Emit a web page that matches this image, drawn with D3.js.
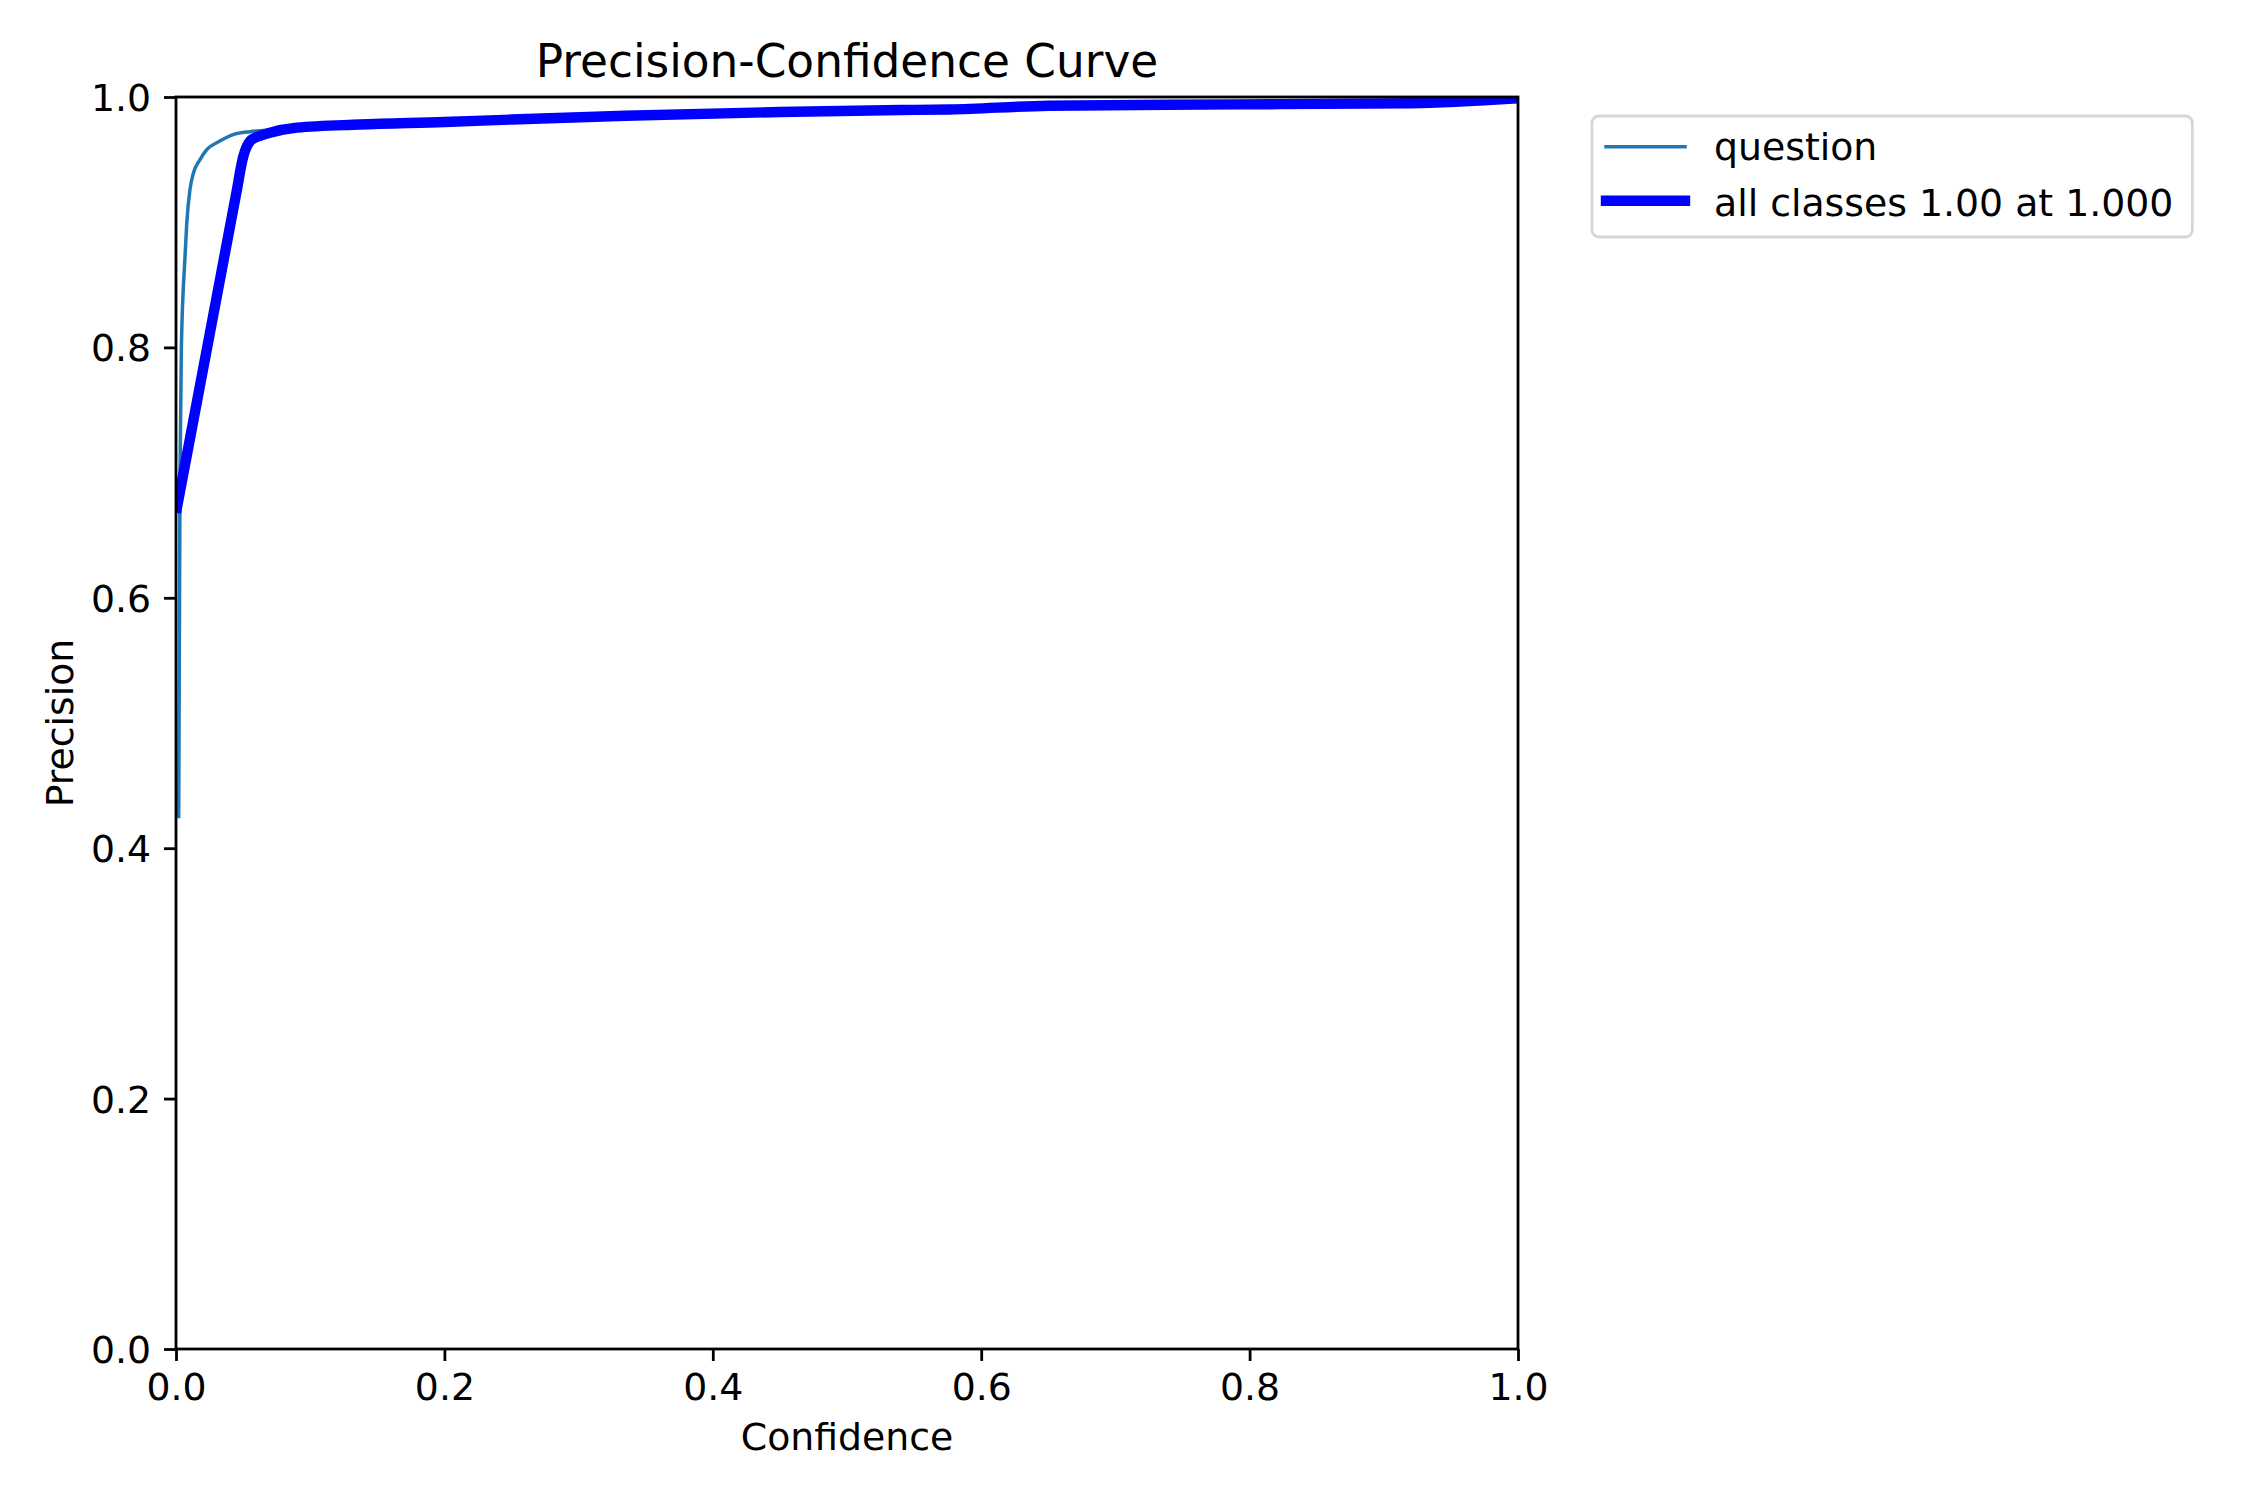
<!DOCTYPE html>
<html>
<head>
<meta charset="utf-8">
<script src="https://cdn.jsdelivr.net/npm/d3@7"></script>
<style>
  body { margin: 0; background: #fff; }
  text { font-family: "DejaVu Sans", sans-serif; fill: #000; }
</style>
</head>
<body>
<svg id="chart" width="2250" height="1500"></svg>
<script>
// per-class curve (thin line)
const confQuestion = [0.002, 0.003, 0.004, 0.0067, 0.008, 0.0104, 0.0129, 0.0179, 0.0229, 0.0313, 0.0425, 0.055, 0.0626, 0.087, 0.137, 0.2, 0.335, 0.54, 0.79, 0.92, 1.0];
const precQuestion = [0.424, 0.70, 0.80, 0.872, 0.899, 0.926, 0.939, 0.950, 0.958, 0.964, 0.970, 0.9723, 0.973, 0.975, 0.978, 0.980, 0.985, 0.9896, 0.9941, 0.995, 0.999];

// smoothed mean over classes (thick line)
const confAll = [0.0, 0.025, 0.045, 0.05, 0.053, 0.055, 0.058, 0.0626, 0.07, 0.09, 0.137, 0.2, 0.25, 0.335, 0.45, 0.54, 0.577, 0.65, 0.79, 0.92, 1.0];
const precAll = [0.668, 0.810, 0.9236, 0.952, 0.961, 0.9645, 0.967, 0.969, 0.9715, 0.9755, 0.978, 0.980, 0.982, 0.985, 0.988, 0.9896, 0.990, 0.993, 0.9941, 0.995, 0.999];

const tickValues = [0, 0.2, 0.4, 0.6, 0.8, 1.0];
const legendLabels = ["question", "all classes 1.00 at 1.000"];

const svg = d3.select("#chart");
const plotL = 176, plotR = 1518, plotT = 97, plotB = 1349;
const fs = 37.8, titleFs = 45.4;

const x = d3.scaleLinear().domain([0, 1]).range([plotL, plotR]);
const y = d3.scaleLinear().domain([0, 1]).range([plotB, plotT]);

svg.append("rect").attr("width", 2250).attr("height", 1500).attr("fill", "#fff");

svg.append("clipPath").attr("id", "plot-clip")
  .append("rect")
  .attr("x", plotL).attr("y", plotT)
  .attr("width", plotR - plotL).attr("height", plotB - plotT);

const line = d3.line()
  .x(d => x(d[0]))
  .y(d => y(d[1]))
  .curve(d3.curveMonotoneX);

const plot = svg.append("g").attr("clip-path", "url(#plot-clip)");

plot.append("path")
  .datum(confQuestion.map((c, i) => [c, precQuestion[i]]))
  .attr("d", line)
  .attr("fill", "none")
  .attr("stroke", "#1f77b4")
  .attr("stroke-width", 3.5)
  .attr("stroke-linejoin", "round");

plot.append("path")
  .datum(confAll.map((c, i) => [c, precAll[i]]))
  .attr("d", line)
  .attr("fill", "none")
  .attr("stroke", "#0000ff")
  .attr("stroke-width", 10.4)
  .attr("stroke-linejoin", "round");

// axes
const xAxis = svg.append("g")
  .attr("transform", `translate(0,${plotB})`)
  .call(d3.axisBottom(x).tickValues(tickValues).tickFormat(d3.format(".1f")).tickSize(12).tickPadding(0));
const yAxis = svg.append("g")
  .attr("transform", `translate(${plotL},0)`)
  .call(d3.axisLeft(y).tickValues(tickValues).tickFormat(d3.format(".1f")).tickSize(12).tickPadding(0));

[xAxis, yAxis].forEach(g => {
  g.select(".domain").remove();
  g.selectAll(".tick line").attr("stroke", "#000").attr("stroke-width", 2.8);
  g.selectAll(".tick text")
    .attr("font-size", fs)
    .attr("font-family", "DejaVu Sans")
    .attr("fill", "#000");
});
xAxis.selectAll(".tick text").attr("dy", null).attr("y", 51);
yAxis.selectAll(".tick text").attr("dy", null).attr("x", -25).attr("y", 13.5);

// frame
svg.append("rect")
  .attr("x", plotL).attr("y", plotT)
  .attr("width", plotR - plotL).attr("height", plotB - plotT)
  .attr("fill", "none")
  .attr("stroke", "#000")
  .attr("stroke-width", 2.8);

// titles
svg.append("text")
  .attr("x", (plotL + plotR) / 2).attr("y", 76.5)
  .attr("text-anchor", "middle")
  .attr("font-size", titleFs)
  .text("Precision-Confidence Curve");

svg.append("text")
  .attr("x", (plotL + plotR) / 2).attr("y", 1450)
  .attr("text-anchor", "middle")
  .attr("font-size", fs)
  .text("Confidence");

svg.append("text")
  .attr("transform", `translate(73,${(plotT + plotB) / 2}) rotate(-90)`)
  .attr("text-anchor", "middle")
  .attr("font-size", fs)
  .text("Precision");

// legend
const legend = svg.append("g");
const frame = legend.append("rect")
  .attr("x", 1592).attr("y", 116)
  .attr("height", 121)
  .attr("rx", 7).attr("ry", 7)
  .attr("fill", "#fff").attr("fill-opacity", 0.8)
  .attr("stroke", "#d6d6d6").attr("stroke-width", 2.8);

const rows = [
  { label: legendLabels[0], color: "#1f77b4", width: 3.5, y: 146.7, base: 159.8 },
  { label: legendLabels[1], color: "#0000ff", width: 10.4, y: 200.7, base: 215.5 }
];
let maxEnd = 0;
rows.forEach(r => {
  legend.append("line")
    .attr("x1", 1606).attr("x2", 1685)
    .attr("y1", r.y).attr("y2", r.y)
    .attr("stroke", r.color)
    .attr("stroke-width", r.width)
    .attr("stroke-linecap", "square");
  const t = legend.append("text")
    .attr("x", 1714).attr("y", r.base)
    .attr("font-size", fs)
    .text(r.label);
  maxEnd = Math.max(maxEnd, 1714 + t.node().getComputedTextLength());
});
frame.attr("width", maxEnd + 19 - 1592);
</script>
</body>
</html>
